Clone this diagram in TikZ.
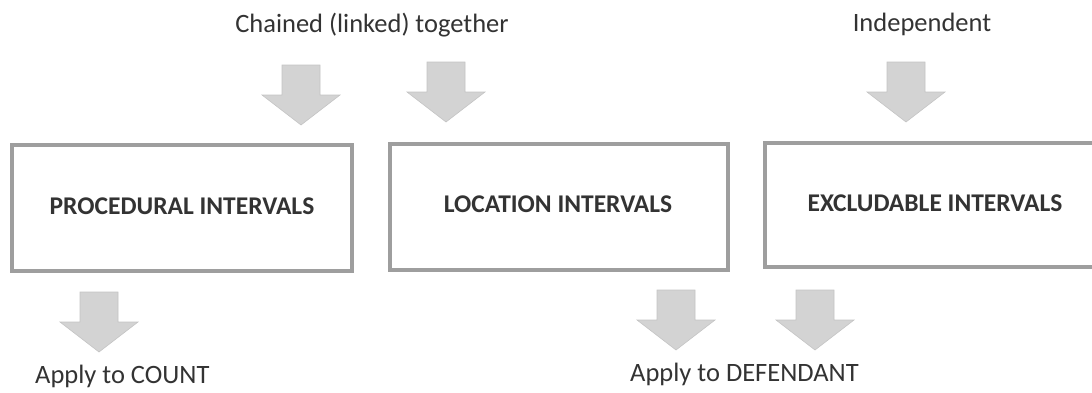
\documentclass[tikz,border=0pt]{standalone}
\usepackage{fontspec}
\setmainfont{Carlito}
\definecolor{txt}{HTML}{333333}
\definecolor{boxline}{HTML}{9E9E9E}
\definecolor{arrowfill}{HTML}{D3D3D3}
\definecolor{arrowline}{HTML}{C4C4C4}
\tikzset{
  intervalbox/.style={draw=boxline, line width=3.5pt, fill=white},
  boxlabel/.style={font=\fontsize{25.5}{30}\selectfont\bfseries, text=txt, inner sep=0pt, anchor=base},
  plainlabel/.style={font=\fontsize{26.5}{32}\selectfont, text=txt, inner sep=0pt, anchor=base},
  pics/blockarrow/.style={code={
    \draw[fill=arrowfill, draw=arrowline, line width=0.6pt, line join=miter]
      (-19,0) -- (19,0) -- (19,30) -- (39,30) -- (0,60) -- (-39,30) -- (-19,30) -- cycle;
  }}
}
\begin{document}
\begin{tikzpicture}[x=1pt,y=-1pt]
\useasboundingbox (0,0) rectangle (1092,392);

% top labels
\node[plainlabel] (chained) at (372,32) {Chained (linked) together};
\node[plainlabel] (indep) at (922,31) {Independent};

% top arrows
\pic (ta1) at (301,65) {blockarrow};
\pic (ta2) at (446,62) {blockarrow};
\pic (ta3) at (906,62) {blockarrow};

% boxes
\draw[intervalbox] (12,145) rectangle (352,271);
\draw[intervalbox] (390,144) rectangle (728,270);
\draw[intervalbox] (765,143) rectangle (1110,267);
\node[boxlabel] (proc) at (182,214) {PROCEDURAL INTERVALS};
\node[boxlabel] (loc) at (558,212) {LOCATION INTERVALS};
\node[boxlabel] (excl) at (935,211) {EXCLUDABLE INTERVALS};

% bottom arrows
\pic (ba1) at (99,292) {blockarrow};
\pic (ba2) at (676,290) {blockarrow};
\pic (ba3) at (815,290) {blockarrow};

% bottom labels
\node[plainlabel, anchor=base west] (count) at (35,383) {Apply to COUNT};
\node[plainlabel, anchor=base west] (defend) at (630,381) {Apply to DEFENDANT};
\end{tikzpicture}
\end{document}
